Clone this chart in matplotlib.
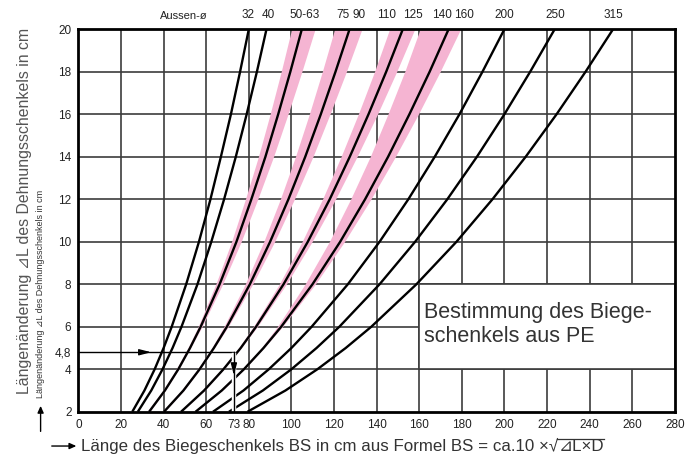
import numpy as np
import matplotlib
matplotlib.use('Agg')
import matplotlib.pyplot as plt
from matplotlib.patches import Rectangle, FancyArrowPatch

plt.rcParams['font.family'] = ['Liberation Sans', 'DejaVu Sans']

# y levels (Laengenaenderung in cm) at which the curves were read
dl = [2, 3, 4, 5, 6, 8, 10, 12, 14, 16, 18, 20]

# black curves: BS in cm at each level of dl
bs_32 = [25.3, 31.0, 35.8, 40.0, 43.8, 50.6, 56.6, 62.0, 66.9, 71.6, 75.9, 80.0]
bs_40 = [27.9, 34.2, 39.5, 44.2, 48.4, 55.9, 62.4, 68.4, 73.9, 79.0, 83.8, 88.3]
bs_50_63 = [33.2, 40.6, 46.9, 52.4, 57.4, 66.3, 74.2, 81.2, 87.8, 93.8, 99.5, 104.9]
bs_75_90 = [40.2, 49.3, 56.9, 63.6, 69.7, 80.5, 90.0, 98.6, 106.5, 113.8, 120.7, 127.3]
bs_110_125 = [48.2, 59.0, 68.1, 76.2, 83.4, 96.3, 107.7, 118.0, 127.4, 136.2, 144.5, 152.3]
bs_140_160 = [55.0, 67.3, 77.7, 86.9, 95.2, 109.9, 122.9, 134.6, 145.4, 155.4, 164.9, 173.8]
bs_200 = [63.2, 77.5, 89.4, 100.0, 109.5, 126.5, 141.4, 154.9, 167.3, 178.9, 189.7, 200.0]
bs_250 = [70.7, 86.6, 100.0, 111.8, 122.5, 141.4, 158.1, 173.2, 187.1, 200.0, 212.1, 223.6]
bs_315 = [79.4, 97.2, 112.2, 125.5, 137.5, 158.7, 177.5, 194.4, 210.0, 224.5, 238.1, 251.0]

# pink bands (left / right edge)
band1_l = [32.2, 39.6, 45.9, 51.4, 56.2, 64.5, 71.9, 78.4, 84.5, 90.0, 95.2, 100.1]
band1_r = [33.4, 40.8, 47.1, 52.6, 58.0, 67.7, 76.4, 84.2, 91.6, 98.4, 104.9, 111.1]
band2_l = [39.2, 48.3, 55.9, 62.6, 68.3, 78.3, 87.0, 94.8, 101.9, 108.4, 114.5, 120.3]
band2_r = [40.4, 49.5, 57.1, 63.8, 70.3, 81.8, 92.1, 101.4, 110.1, 118.1, 125.8, 133.1]
band3_l = [47.2, 58.0, 67.1, 75.2, 82.1, 94.3, 105.0, 114.6, 123.3, 131.4, 139.0, 146.1]
band3_r = [48.4, 59.2, 68.3, 76.4, 84.0, 97.6, 109.7, 120.7, 130.8, 140.4, 149.4, 157.9]
band4_l = [54.0, 66.3, 76.7, 85.9, 93.4, 106.4, 117.8, 127.8, 137.0, 145.3, 153.2, 160.4]
band4_r = [55.2, 67.5, 77.9, 87.1, 95.8, 111.2, 124.9, 137.3, 148.8, 159.6, 169.8, 179.4]

# labels at the top (Aussen-ø)
top_labels = ['32', '40', '50-63', '75', '90', '110', '125', '140', '160', '200', '250', '315']
top_pos = [79.6, 89, 106.3, 124, 131.7, 144.6, 157.2, 170.6, 181, 200, 224, 251]

xticks = [0, 20, 40, 60, 73, 80, 100, 120, 140, 160, 180, 200, 220, 240, 260, 280]
yticks = [2, 4, 4.8, 6, 8, 10, 12, 14, 16, 18, 20]

example_bs = 73
example_dl = 4.8

pink = '#f5b4d2'
gridc = '#3c3c3c'
textc = '#333333'

fig = plt.figure(figsize=(7, 4.57), dpi=100)
ax = fig.add_axes([0.112, 0.099, 0.852, 0.837])
ax.set_xlim(0, 280)
ax.set_ylim(2, 20)

for x in range(20, 280, 20):
    ax.axvline(x, color=gridc, lw=1.2, zorder=1)
for y in range(4, 20, 2):
    ax.axhline(y, color=gridc, lw=1.2, zorder=1)

for l, r in [(band1_l, band1_r), (band2_l, band2_r), (band3_l, band3_r), (band4_l, band4_r)]:
    ax.fill_betweenx(dl, l, r, color=pink, lw=0, zorder=2)

for c in [bs_32, bs_40, bs_50_63, bs_75_90, bs_110_125, bs_140_160, bs_200, bs_250, bs_315]:
    ax.plot(c, dl, color='black', lw=1.7, zorder=3, solid_capstyle='butt')

# white box with the title
ax.add_patch(Rectangle((160, 4), 120, 4, facecolor='white', edgecolor=gridc, lw=1.2, zorder=4))
ax.text(162.3, 6.1, 'Bestimmung des Biege-\nschenkels aus PE', fontsize=15.5, color=textc,
        va='center', ha='left', zorder=5, linespacing=1.2)

# example: 4,8 cm -> 73 cm
ax.plot([0, example_bs], [example_dl, example_dl], color='black', lw=1, zorder=3)
ax.annotate('', xy=(35.5, example_dl), xytext=(27, example_dl),
            arrowprops=dict(arrowstyle='-|>,head_length=0.7,head_width=0.18', color='black', lw=1), zorder=4)
ax.plot([example_bs, example_bs], [example_dl - 0.15, 2], color='white', lw=3.2, zorder=3.5)
ax.plot([example_bs, example_bs], [example_dl, 2], color='black', lw=1, zorder=4)
ax.annotate('', xy=(example_bs, 3.58), xytext=(example_bs, 4.3),
            arrowprops=dict(arrowstyle='-|>,head_length=0.7,head_width=0.18', color='black', lw=1), zorder=4)

for s in ax.spines.values():
    s.set_linewidth(2)
    s.set_zorder(6)

ax.set_xticks(xticks)
ax.set_xticklabels([str(t) for t in xticks])
ax.set_yticks(yticks)
ax.set_yticklabels([str(t).replace('.', ',') for t in yticks])
ax.tick_params(length=0, labelsize=8.5, colors='#222222')
ax.tick_params(axis='x', pad=5)
ax.tick_params(axis='y', pad=5)

ax.text(49.5, 20.4, 'Aussen-ø', fontsize=8, ha='center', va='bottom', color='#222222')
for lab, x in zip(top_labels, top_pos):
    ax.text(x, 20.4, lab, fontsize=8.5, ha='center', va='bottom', color='#222222')

# axis titles
fig.text(0.035, 0.538, 'Längenänderung ⊿L des Dehnungsschenkels in cm', rotation=90,
         fontsize=11.4, color='#555555', ha='center', va='center')
fig.text(0.058, 0.357, 'Längenänderung ⊿L des Dehnungsschenkels in cm', rotation=90,
         fontsize=6.5, color=textc, ha='center', va='center')
fig.add_artist(FancyArrowPatch((0.058, 0.05), (0.058, 0.118), transform=fig.transFigure,
                               arrowstyle='-|>,head_length=4,head_width=1.8', color='black', lw=1))
fig.add_artist(FancyArrowPatch((0.07, 0.024), (0.113, 0.024), transform=fig.transFigure,
                               arrowstyle='-|>,head_length=4,head_width=1.8', color='black', lw=1))

t1 = fig.text(0.116, 0.024, 'Länge des Biegeschenkels BS in cm aus Formel BS = ca.10 ×√', fontsize=12.2,
              color=textc, ha='left', va='center')
fig.canvas.draw()
r = fig.canvas.get_renderer()
bb = t1.get_window_extent(r)
t2 = fig.text(bb.x1 / 700, 0.024, '⊿L×D', fontsize=12.2, color=textc, ha='left', va='center')
bb2 = t2.get_window_extent(r)
fig.add_artist(plt.Line2D([bb.x1 / 700 - 0.002, bb2.x1 / 700], [bb.y1 / 457 - 0.003] * 2,
                          transform=fig.transFigure, color=textc, lw=0.9))

fig.savefig('out.png', dpi=100)
